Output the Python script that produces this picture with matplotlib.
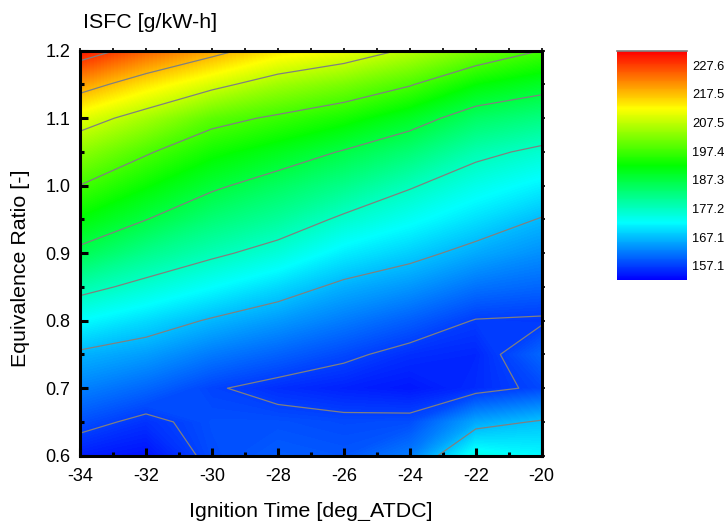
import numpy as np
import matplotlib
matplotlib.use('Agg')
import matplotlib.pyplot as plt
from matplotlib.colors import LinearSegmentedColormap, Normalize
from matplotlib.cm import ScalarMappable
from matplotlib.ticker import MultipleLocator, FormatStrFormatter

plt.rcParams['font.family'] = ['Liberation Sans', 'DejaVu Sans']
plt.rcParams['axes.unicode_minus'] = False

# ignition time [deg ATDC] (columns) and equivalence ratio (rows)
ign_time = [-34, -32, -30, -28, -26, -24, -22, -20]
phi = [0.60, 0.65, 0.70, 0.75, 0.80, 0.85, 0.90, 0.95, 1.00, 1.05, 1.10, 1.15, 1.20]

# ISFC [g/kW-h], one row per equivalence ratio
isfc = [
    [154.5, 153.5, 158.2, 159.5, 159.0, 162.0, 174.0, 172.0],
    [158.4, 156.1, 158.5, 158.5, 158.0, 158.2, 165.3, 167.6],
    [162.4, 160.3, 157.5, 155.8, 154.8, 154.0, 155.6, 157.9],
    [166.3, 164.6, 161.8, 159.9, 157.9, 155.8, 155.2, 160.3],
    [172.3, 169.5, 166.6, 164.3, 161.9, 159.6, 156.9, 156.6],
    [178.9, 175.6, 172.4, 169.3, 166.0, 164.0, 161.2, 160.2],
    [185.9, 181.5, 178.2, 175.2, 171.0, 168.5, 165.6, 163.5],
    [191.8, 187.4, 183.2, 180.3, 176.3, 173.1, 169.9, 166.8],
    [197.3, 192.6, 188.2, 184.9, 181.6, 177.7, 174.0, 171.3],
    [203.2, 198.0, 193.3, 190.3, 186.9, 183.3, 178.6, 176.0],
    [210.2, 205.0, 199.3, 196.5, 193.7, 189.7, 184.6, 182.3],
    [220.1, 214.1, 209.1, 204.6, 201.6, 197.8, 192.2, 189.5],
    [230.8, 224.7, 219.4, 214.1, 211.1, 206.6, 201.6, 197.3],
]

levels = [157.1, 167.1, 177.2, 187.3, 197.4, 207.5, 217.5, 227.6]
level_labels = ['157.1', '167.1', '177.2', '187.3', '197.4', '207.5', '217.5', '227.6']
zmin, zmax = 152.1, 232.6

cmap = LinearSegmentedColormap.from_list(
    'rainbow5', ['#0000ff', '#00ffff', '#00ff00', '#ffff00', '#ff0000'])
norm = Normalize(zmin, zmax)

fig = plt.figure(figsize=(7.28, 5.21), dpi=100)
ax = fig.add_axes([80 / 728, 65.3 / 521, 461.7 / 728, 405 / 521])

X, Y = np.meshgrid(ign_time, phi)
Z = np.array(isfc)
ax.contourf(X, Y, Z, levels=np.linspace(zmin, zmax, 256), cmap=cmap, norm=norm,
            extend='both')
ax.contour(X, Y, Z, levels=levels, colors='#808080', linewidths=0.9)

ax.set_xlim(-34, -20)
ax.set_ylim(0.6, 1.2)
ax.xaxis.set_major_locator(MultipleLocator(2))
ax.xaxis.set_minor_locator(MultipleLocator(1))
ax.yaxis.set_major_locator(MultipleLocator(0.1))
ax.yaxis.set_minor_locator(MultipleLocator(0.05))
ax.yaxis.set_major_formatter(FormatStrFormatter('%.1f'))
ax.tick_params(which='both', direction='in', width=2.2, labelsize=13,
               top=False, right=False)
ax.tick_params(axis='y', pad=7)
ax.tick_params(axis='x', pad=9)
ax.tick_params(which='major', length=6)
ax.tick_params(which='minor', length=3)
for sp in ax.spines.values():
    sp.set_linewidth(2.2)

# small ticks on top and right edges
secx = ax.secondary_xaxis('top')
secx.xaxis.set_major_locator(MultipleLocator(1))
secx.tick_params(direction='out', length=2, width=1.2, labeltop=False)
secy = ax.secondary_yaxis('right')
secy.yaxis.set_major_locator(MultipleLocator(0.05))
secy.tick_params(direction='out', length=2, width=1.2, labelright=False)
for s in (secx, secy):
    for sp in s.spines.values():
        sp.set_visible(False)

fig.text(82.7 / 728, 1 - 28 / 521, 'ISFC [g/kW-h]', fontsize=15.4, va='baseline', ha='left')
fig.text(310.8 / 728, 4 / 521, 'Ignition Time [deg_ATDC]', fontsize=15.4,
         va='baseline', ha='center')
fig.text(21 / 728, 1 - 268 / 521, 'Equivalence Ratio [-]', fontsize=15.4,
         rotation=90, va='center', ha='center')

cax = fig.add_axes([617 / 728, (521 - 280) / 521, 70 / 728, 229 / 521])
cb = fig.colorbar(ScalarMappable(norm=norm, cmap=cmap), cax=cax, ticks=levels)
cb.set_ticklabels(level_labels)
cb.outline.set_visible(False)
cax.tick_params(length=0, labelsize=9.3, pad=3.5)
cax.axhline(zmax, color='#808080', lw=1.2, clip_on=False)

fig.savefig('out.png', dpi=100)
